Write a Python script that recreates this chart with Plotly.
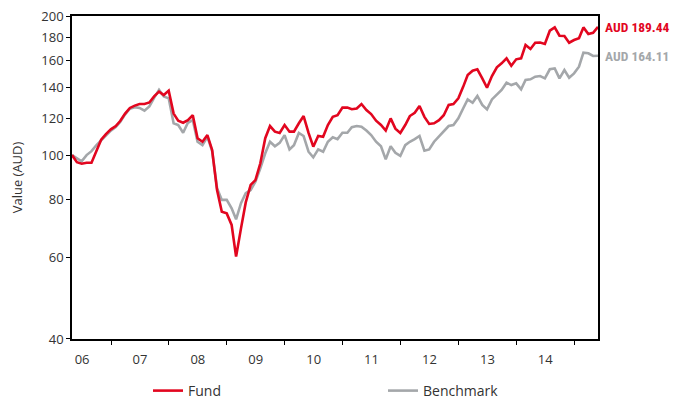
import math
import pandas as pd
import plotly.graph_objects as go

# ---- data (month-end values, Apr 2006 - May 2015) ----
start_date = "2006-04-30"
fund = [100, 96.5, 95.8, 96.3, 96.3, 102, 108, 111, 113.7, 115.6,
        118.5, 123, 126.5, 128, 129, 129, 130, 134, 137.2, 134.9,
        137.9, 123, 118.7, 117.5, 119, 122, 108.8, 106.9, 110.5, 102.6,
        84, 75.4, 74.8, 70.6, 60.3, 69.4, 79, 86.2, 88.3, 96,
        108.8, 115.6, 112.4, 111.7, 116.2, 112.4, 112.4, 117.2, 121.5, 111.7,
        104.3, 110, 109.6, 116.2, 121, 122, 126.7, 126.7, 125.7, 126.2,
        129, 125.2, 122.7, 118.7, 116.2, 113, 120.1, 114.1, 111.7, 116.2,
        121.5, 123.5, 127.7, 121, 116.8, 117.2, 119, 122, 128.4, 129,
        132.7, 140.7, 149.1, 152.3, 153.4, 146.6, 139.9, 148.3, 154.9, 158,
        162, 156.1, 161.2, 162, 173.1, 169.7, 175.1, 175.3, 174, 185.9,
        189, 181.3, 181, 175.1, 177.5, 179, 189, 182.9, 184, 189.44]
benchmark = [100, 98.4, 97, 100, 102, 105, 107.5, 110.5, 113, 115,
             118, 122.5, 126, 127, 126.5, 124.8, 127.5, 133, 138.4, 134,
             132.7, 117.2, 116.2, 111.8, 117.5, 119, 106.9, 105.1, 109.6, 102,
             84.8, 80, 80, 76.7, 72.6, 78.7, 82.7, 84, 87.6, 93.6,
             100.9, 106.9, 104.5, 106.3, 110.5, 102.9, 105.1, 111.7, 110, 101.7,
             98.9, 102.9, 101.7, 106.9, 109.3, 108.3, 111.8, 111.8, 114.9, 115.6,
             115.2, 113, 110.5, 106.9, 104.5, 97.9, 104.5, 101.2, 99.6, 105.1,
             106.9, 108.3, 110, 102.2, 102.9, 106.9, 109.6, 112.4, 115.6, 116.2,
             120.1, 126.3, 132, 129.8, 134.3, 128.4, 125.6, 132, 135.6, 138.4,
             143.5, 141.8, 143, 138.8, 145.4, 145.9, 147.8, 148.3, 146.6, 153.4,
             154.1, 146.6, 152.8, 147.1, 150.3, 155.4, 166.6, 166.1, 163.9, 164.11]
series_names = ["Fund", "Benchmark"]
y_ticks = [40, 60, 80, 100, 120, 140, 160, 180, 200]
x_range = ["2006-04-30", "2015-05-31"]
y_title = "Value (AUD)"

RED = "#E2061F"
GREY = "#A4A7AA"
FONT = "Open Sans"
NARROW = "Liberation Sans Narrow, Roboto Condensed, Roboto, Open Sans"

dates = pd.date_range(start_date, periods=len(fund), freq=pd.offsets.MonthEnd())

fig = go.Figure()
fig.add_trace(go.Scatter(x=dates, y=benchmark, mode="lines", name=series_names[1],
                         line=dict(color=GREY, width=2.6), legendrank=2))
fig.add_trace(go.Scatter(x=dates, y=fund, mode="lines", name=series_names[0],
                         line=dict(color=RED, width=2.6), legendrank=1))

EPS = 1e-4
ylog = [math.log10(y_ticks[0]) - EPS, math.log10(y_ticks[-1]) + EPS]

W, H = 686, 401
OFF = 8  # page body margin

fig.update_layout(
    width=W, height=H,
    margin=dict(l=72 - OFF, r=W - 598 + OFF, t=16 - OFF, b=H - 339 + OFF,
                autoexpand=False),
    paper_bgcolor="white", plot_bgcolor="white",
    font=dict(family=FONT, size=13, color="#333333"),
    showlegend=True,
    legend=dict(orientation="h", xref="container", yref="container",
                x=(148 - OFF) / W, y=1 - (391 - OFF) / H,
                xanchor="left", yanchor="middle",
                entrywidth=190, entrywidthmode="pixels",
                font=dict(family=FONT, size=14, color="#333333"), itemwidth=30),
    xaxis=dict(type="date", range=x_range, dtick="M12", tick0="2006-01-01",
               tickformat="%y", ticklabelmode="period", automargin=False,
               ticks="outside", ticklen=4, tickwidth=1.3, tickcolor="black",
               showline=True, linecolor="black", linewidth=1.6, mirror=True,
               showgrid=False, zeroline=False, ticklabelstandoff=4,
               tickfont=dict(size=13, color="#333333")),
    xaxis2=dict(type="date", range=x_range, dtick="M12", tick0="2006-01-01",
                overlaying="x", anchor="y", ticks="inside", ticklen=4, tickwidth=1.3,
                tickcolor="black", showticklabels=False, showline=False,
                showgrid=False, zeroline=False),
    yaxis=dict(type="log", range=ylog, tickvals=y_ticks, automargin=False,
               ticktext=[str(v) for v in y_ticks], ticklabeloverflow="allow",
               ticks="outside", ticklen=4, tickwidth=1.3, tickcolor="black",
               showline=True, linecolor="black", linewidth=1.6, mirror=True,
               showgrid=False, zeroline=False,
               tickfont=dict(size=13, color="#333333"),
               title=dict(text=y_title, standoff=19,
                          font=dict(size=13, color="#333333"))),
    yaxis2=dict(type="log", range=ylog, tickvals=y_ticks, overlaying="y", anchor="x",
                ticks="inside", ticklen=2, tickwidth=1.3, tickcolor="black",
                showticklabels=False, showline=False, showgrid=False, zeroline=False),
)

fig.add_annotation(xref="paper", x=1, xanchor="left", xshift=5,
                   yref="y", y=math.log10(fund[-1]), yanchor="middle",
                   text=f"<b>AUD {fund[-1]:.2f}</b>", showarrow=False,
                   font=dict(family=NARROW, size=13.5, color=RED))
fig.add_annotation(xref="paper", x=1, xanchor="left", xshift=5,
                   yref="y", y=math.log10(benchmark[-1]), yanchor="middle",
                   text=f"<b>AUD {benchmark[-1]:.2f}</b>", showarrow=False,
                   font=dict(family=NARROW, size=13.5, color=GREY))

fig.write_html("out.html")
